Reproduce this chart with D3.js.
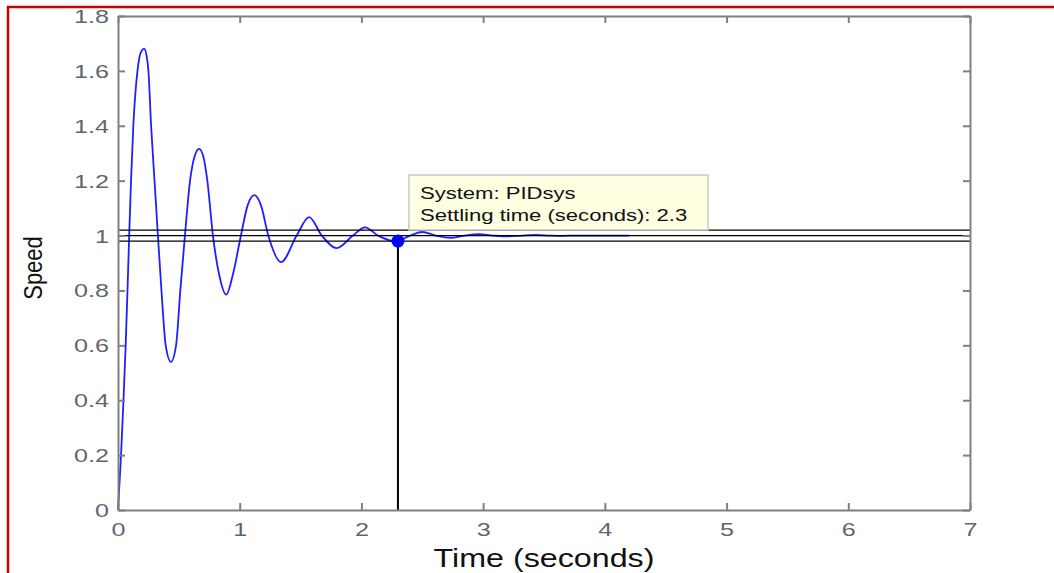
<!DOCTYPE html>
<html>
<head>
<meta charset="utf-8">
<script src="https://cdn.jsdelivr.net/npm/d3@7"></script>
<style>
  body { margin: 0; background: #fff; }
  svg { display: block; }
</style>
</head>
<body>
<script>
// step response (time in s, speed)
const timeVals = [0, 0.025, 0.045, 0.063, 0.078, 0.092, 0.107, 0.126, 0.16, 0.19, 0.214, 0.235, 0.25, 0.272, 0.30, 0.328, 0.357, 0.392, 0.435,
  0.477, 0.512, 0.55, 0.592, 0.63, 0.666, 0.70, 0.734, 0.78, 0.83, 0.89, 0.945, 1.01, 1.065, 1.12, 1.175, 1.235, 1.34, 1.468, 1.57, 1.674,
  1.797, 1.93, 2.03, 2.136, 2.28, 2.40, 2.50, 2.61, 2.73, 2.85, 2.96, 3.08, 3.20, 3.32, 3.43, 3.55, 3.66, 3.78, 4.2];
const speedVals = [0, 0.2, 0.4, 0.6, 0.8, 1.0, 1.2, 1.4, 1.6, 1.67, 1.681, 1.655, 1.6, 1.4, 1.2, 1.0, 0.8, 0.6, 0.54,
  0.6, 0.8, 1.0, 1.2, 1.29, 1.316, 1.29, 1.2, 1.0, 0.86, 0.785, 0.86, 1.0, 1.11, 1.147, 1.11, 1.0, 0.903, 1.0, 1.067, 1.0,
  0.954, 1.0, 1.03, 1.0, 0.978, 1.0, 1.013, 1.0, 0.992, 1.0, 1.005, 1.0, 0.997, 1.0, 1.002, 1.0, 0.999, 1.0, 1.0];

const xTicks = [0, 1, 2, 3, 4, 5, 6, 7];
const yTicks = [0, 0.2, 0.4, 0.6, 0.8, 1, 1.2, 1.4, 1.6, 1.8];
const settleBand = [0.98, 1.0, 1.02];
const settleTime = 2.3;
const settleValue = 0.98;
const tipLines = ['System: PIDsys', 'Settling time (seconds): 2.3'];

const width = 1054, height = 573;
const svg = d3.select('body').append('svg')
  .attr('width', width)
  .attr('height', height);

const x = d3.scaleLinear().domain([0, 7]).range([118, 970]);
const y = d3.scaleLinear().domain([0, 1.8]).range([510, 16]);

const pts = timeVals.map((t, i) => ({ t: t, v: speedVals[i] }));

// response curve
const line = d3.line()
  .x(d => x(d.t))
  .y(d => y(d.v))
  .curve(d3.curveMonotoneX);

svg.append('path')
  .attr('d', line(pts))
  .attr('fill', 'none')
  .attr('stroke', '#1f1fff')
  .attr('stroke-width', 1.8);

// settling band lines
svg.selectAll('.band')
  .data(settleBand)
  .enter().append('line')
  .attr('x1', x(0))
  .attr('x2', x(7))
  .attr('y1', d => y(d))
  .attr('y2', d => y(d))
  .attr('stroke', '#000')
  .attr('stroke-width', 1.3);

// settling time marker
svg.append('line')
  .attr('x1', x(settleTime))
  .attr('x2', x(settleTime))
  .attr('y1', y(settleValue))
  .attr('y2', y(0))
  .attr('stroke', '#000')
  .attr('stroke-width', 2);

svg.append('circle')
  .attr('cx', x(settleTime))
  .attr('cy', y(settleValue))
  .attr('r', 6.5)
  .attr('fill', '#0000ff');

// data tip
const tipX = x(settleTime) + 11, tipY = 175;
svg.append('rect')
  .attr('x', tipX)
  .attr('y', tipY)
  .attr('width', 299)
  .attr('height', 55)
  .attr('fill', '#ffffe1')
  .attr('stroke', '#c8c8c8')
  .attr('stroke-width', 1.5);

svg.selectAll('.tip')
  .data(tipLines)
  .enter().append('text')
  .attr('transform', (d, i) => `translate(${tipX + 11},${tipY + 24 + i * 22}) scale(1.38,1)`)
  .attr('font-family', 'Arial, "Liberation Sans", sans-serif')
  .attr('font-size', 16)
  .attr('fill', '#111')
  .text(d => d);

// axes box, ticks inside on all four sides
function styleAxis(g) {
  g.select('.domain').attr('stroke', '#808080').attr('stroke-width', 2);
  g.selectAll('.tick line').attr('stroke', '#808080').attr('stroke-width', 2);
}

const fmt = d3.format('~g');

const xAxis = svg.append('g')
  .attr('transform', `translate(0,${y(0)})`)
  .call(d3.axisBottom(x).tickValues(xTicks).tickSizeInner(-7).tickSizeOuter(0).tickFormat(fmt));
styleAxis(xAxis);
xAxis.selectAll('.tick text')
  .attr('y', 0).attr('dy', 0)
  .attr('transform', 'translate(0,26) scale(1.4,1)')
  .attr('font-family', 'Arial, "Liberation Sans", sans-serif')
  .attr('font-size', 18)
  .attr('fill', '#5f6670');

const yAxis = svg.append('g')
  .attr('transform', `translate(${x(0)},0)`)
  .call(d3.axisLeft(y).tickValues(yTicks).tickSizeInner(-7).tickSizeOuter(0).tickFormat(fmt));
styleAxis(yAxis);
yAxis.selectAll('.tick text')
  .attr('x', 0).attr('dy', 0)
  .attr('transform', 'translate(-9,6.5) scale(1.4,1)')
  .attr('font-family', 'Arial, "Liberation Sans", sans-serif')
  .attr('font-size', 18)
  .attr('fill', '#5f6670');

const topAxis = svg.append('g')
  .attr('transform', `translate(0,${y(1.8)})`)
  .call(d3.axisTop(x).tickValues(xTicks).tickSizeInner(-7).tickSizeOuter(0).tickFormat(''));
styleAxis(topAxis);

const rightAxis = svg.append('g')
  .attr('transform', `translate(${x(7)},0)`)
  .call(d3.axisRight(y).tickValues(yTicks).tickSizeInner(-7).tickSizeOuter(0).tickFormat(''));
styleAxis(rightAxis);

// axis titles
svg.append('text')
  .attr('transform', `translate(${(x(0) + x(7)) / 2},567) scale(1.24,1)`)
  .attr('text-anchor', 'middle')
  .attr('font-family', 'Arial, "Liberation Sans", sans-serif')
  .attr('font-size', 26)
  .attr('fill', '#111')
  .text('Time (seconds)');

svg.append('text')
  .attr('transform', 'translate(42,268) scale(1.2,1) rotate(-90)')
  .attr('text-anchor', 'middle')
  .attr('font-family', 'Arial, "Liberation Sans", sans-serif')
  .attr('font-size', 22)
  .attr('fill', '#111')
  .text('Speed');

// red frame (left and top edges)
svg.append('path')
  .attr('d', `M8,${height} L8,7 L${width},7`)
  .attr('fill', 'none')
  .attr('stroke', '#cc0000')
  .attr('stroke-width', 2.5);
</script>
</body>
</html>
